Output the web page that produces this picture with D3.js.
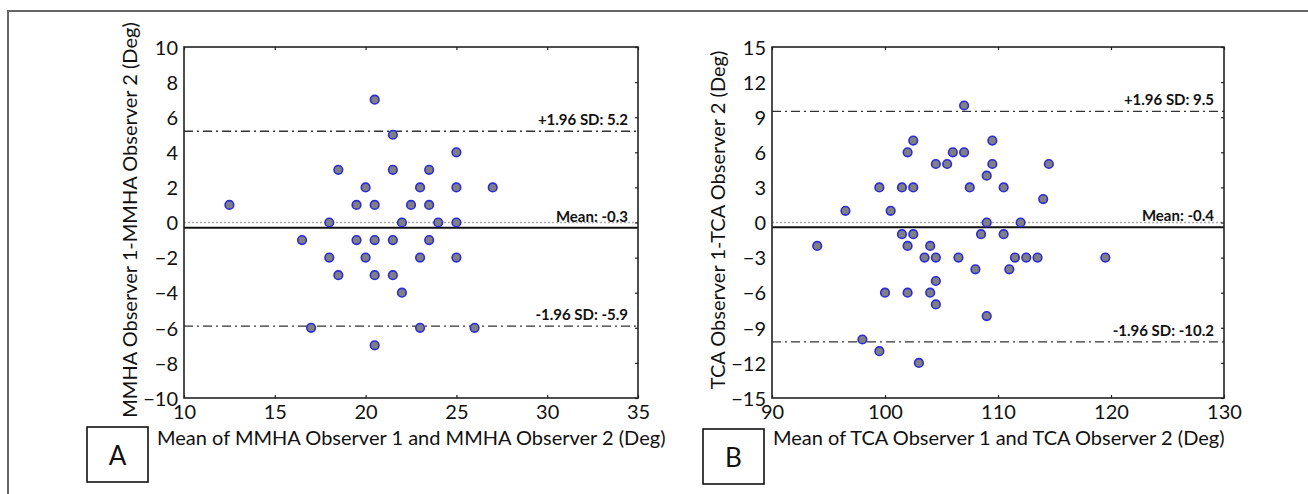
<!DOCTYPE html>
<html><head><meta charset="utf-8">
<script src="https://cdn.jsdelivr.net/npm/d3@7/dist/d3.min.js"></script>
<style>
body{margin:0;background:#fff}
svg{display:block}
text{font-family:Lato,"Open Sans",sans-serif;fill:#111}
</style>
</head><body>
<svg id="c" width="1308" height="494"></svg>
<script>
// ---- Data ----
const mmhaMean = [20.5,21.5,25,18.5,21.5,23.5,20,23,25,27,12.5,19.5,20.5,22.5,23.5,18,22,24,25,16.5,19.5,20.5,21.5,23.5,18,20,23,25,18.5,20.5,21.5,22,17,23,26,20.5];
const mmhaDiff = [7,5,4,3,3,3,2,2,2,2,1,1,1,1,1,0,0,0,0,-1,-1,-1,-1,-1,-2,-2,-2,-2,-3,-3,-3,-4,-6,-6,-6,-7];
const mmhaLimits = [5.2,-0.3,-5.9];
const mmhaLimitLabels = ["+1.96 SD: 5.2","Mean: -0.3","-1.96 SD: -5.9"];
const mmhaXTicks = [10,15,20,25,30,35];
const mmhaYTicks = [-10,-8,-6,-4,-2,0,2,4,6,8,10];

const tcaMean = [107,102.5,109.5,102,106,107,104.5,105.5,109.5,114.5,109,99.5,101.5,102.5,107.5,110.5,114,96.5,100.5,109,112,101.5,102.5,108.5,110.5,94,102,104,103.5,104.5,106.5,111.5,112.5,113.5,119.5,108,111,104.5,100,102,104,104.5,109,98,99.5,103];
const tcaDiff = [10,7,7,6,6,6,5,5,5,5,4,3,3,3,3,3,2,1,1,0,0,-1,-1,-1,-1,-2,-2,-2,-3,-3,-3,-3,-3,-3,-3,-4,-4,-5,-6,-6,-6,-7,-8,-10,-11,-12];
const tcaLimits = [9.5,-0.4,-10.2];
const tcaLimitLabels = ["+1.96 SD: 9.5","Mean: -0.4","-1.96 SD: -10.2"];
const tcaXTicks = [90,100,110,120,130];
const tcaYTicks = [-15,-12,-9,-6,-3,0,3,6,9,12,15];

const svg = d3.select("#c");

// figure frame (only top/left edges visible in the picture)
svg.append("rect").attr("x",8).attr("y",11).attr("width",1400).attr("height",600)
  .attr("fill","none").attr("stroke","#666").attr("stroke-width",2);

function panel(cfg){
  const g = svg.append("g");
  const x = d3.scaleLinear().domain(cfg.xDomain).range([cfg.left,cfg.right]);
  const y = d3.scaleLinear().domain(cfg.yDomain).range([cfg.bottom,cfg.top]);

  // zero reference (dotted gray)
  g.append("line").attr("x1",cfg.left).attr("x2",cfg.right)
    .attr("y1",y(0)).attr("y2",y(0))
    .attr("stroke","#aaa").attr("stroke-width",1.5).attr("stroke-dasharray","2,2");

  // limits of agreement
  cfg.limits.forEach((v,i)=>{
    const isMean = i===1;
    g.append("line").attr("x1",cfg.left).attr("x2",cfg.right)
      .attr("y1",y(v)).attr("y2",y(v))
      .attr("stroke",isMean?"#111":"#333")
      .attr("stroke-width",isMean?2:1.3)
      .attr("stroke-dasharray",isMean?null:"9,4,2,4");
    g.append("text").attr("x",cfg.right-10).attr("y",y(v)-6)
      .attr("text-anchor","end").attr("font-size",15).attr("font-weight","bold")
      .text(cfg.labels[i]);
  });

  // points
  g.selectAll("circle.pt").data(cfg.xs.map((d,i)=>[d,cfg.ys[i]])).join("circle")
    .attr("class","pt")
    .attr("cx",d=>x(d[0])).attr("cy",d=>y(d[1])).attr("r",4.3)
    .attr("fill","#808080").attr("stroke","#2a2ae0").attr("stroke-width",1.6);

  // frame
  g.append("rect").attr("x",cfg.left).attr("y",cfg.top)
    .attr("width",cfg.right-cfg.left).attr("height",cfg.bottom-cfg.top)
    .attr("fill","none").attr("stroke","#222").attr("stroke-width",1.6);

  // inward tick marks
  const tickStyle = s=>{s.select(".domain").remove(); s.selectAll("line").attr("stroke","#222").attr("stroke-width",1.2);};
  g.append("g").attr("transform",`translate(0,${cfg.bottom})`)
    .call(d3.axisTop(x).tickValues(cfg.xTicks).tickSize(3).tickFormat("")).call(tickStyle);
  g.append("g").attr("transform",`translate(0,${cfg.top})`)
    .call(d3.axisBottom(x).tickValues(cfg.xTicks).tickSize(3).tickFormat("")).call(tickStyle);
  g.append("g").attr("transform",`translate(${cfg.right},0)`)
    .call(d3.axisLeft(y).tickValues(cfg.yTicks).tickSize(3).tickFormat("")).call(tickStyle);

  // tick labels
  const lab = s=>{s.select(".domain").remove(); s.selectAll("line").remove();
    s.selectAll("text").attr("font-size",20).attr("font-family","Lato,'Open Sans',sans-serif").attr("fill","#111");};
  g.append("g").attr("transform",`translate(0,${cfg.bottom})`)
    .call(d3.axisBottom(x).tickValues(cfg.xTicks).tickSize(0).tickPadding(7)).call(lab);
  g.append("g").attr("transform",`translate(${cfg.left},0)`)
    .call(d3.axisLeft(y).tickValues(cfg.yTicks).tickSize(0).tickPadding(6)).call(lab)
    .selectAll("text").attr("dy","0.36em");

  // axis titles
  g.append("text").attr("x",cfg.xTitleX).attr("y",cfg.xTitleY)
    .attr("font-size",20).attr("text-anchor","start").text(cfg.xTitle);
  g.append("text").attr("transform",`translate(${cfg.yTitleX},${cfg.yTitleY}) rotate(-90)`)
    .attr("font-size",20).attr("text-anchor","middle").text(cfg.yTitle);

  // panel letter box
  g.append("rect").attr("x",cfg.box[0]).attr("y",cfg.box[1]).attr("width",61).attr("height",55)
    .attr("fill","none").attr("stroke","#111").attr("stroke-width",1.6);
  g.append("text").attr("x",cfg.box[0]+30.5).attr("y",cfg.box[1]+38)
    .attr("text-anchor","middle").attr("font-size",26).text(cfg.letter);
}

panel({xDomain:[10,35], yDomain:[-10,10], left:184, right:638, top:47, bottom:398,
  xs:mmhaMean, ys:mmhaDiff, limits:mmhaLimits, labels:mmhaLimitLabels,
  xTicks:mmhaXTicks, yTicks:mmhaYTicks,
  xTitle:"Mean of MMHA Observer 1 and MMHA Observer 2 (Deg)", xTitleX:157, xTitleY:445,
  yTitle:"MMHA Observer 1-MMHA Observer 2 (Deg)", yTitleX:137, yTitleY:220,
  box:[87,427], letter:"A"});

panel({xDomain:[90,130], yDomain:[-15,15], left:772, right:1224, top:47, bottom:398,
  xs:tcaMean, ys:tcaDiff, limits:tcaLimits, labels:tcaLimitLabels,
  xTicks:tcaXTicks, yTicks:tcaYTicks,
  xTitle:"Mean of TCA Observer 1 and TCA Observer 2 (Deg)", xTitleX:773, xTitleY:445,
  yTitle:"TCA Observer 1-TCA Observer 2 (Deg)", yTitleX:725, yTitleY:220,
  box:[703,429], letter:"B"});
</script>
</body></html>
